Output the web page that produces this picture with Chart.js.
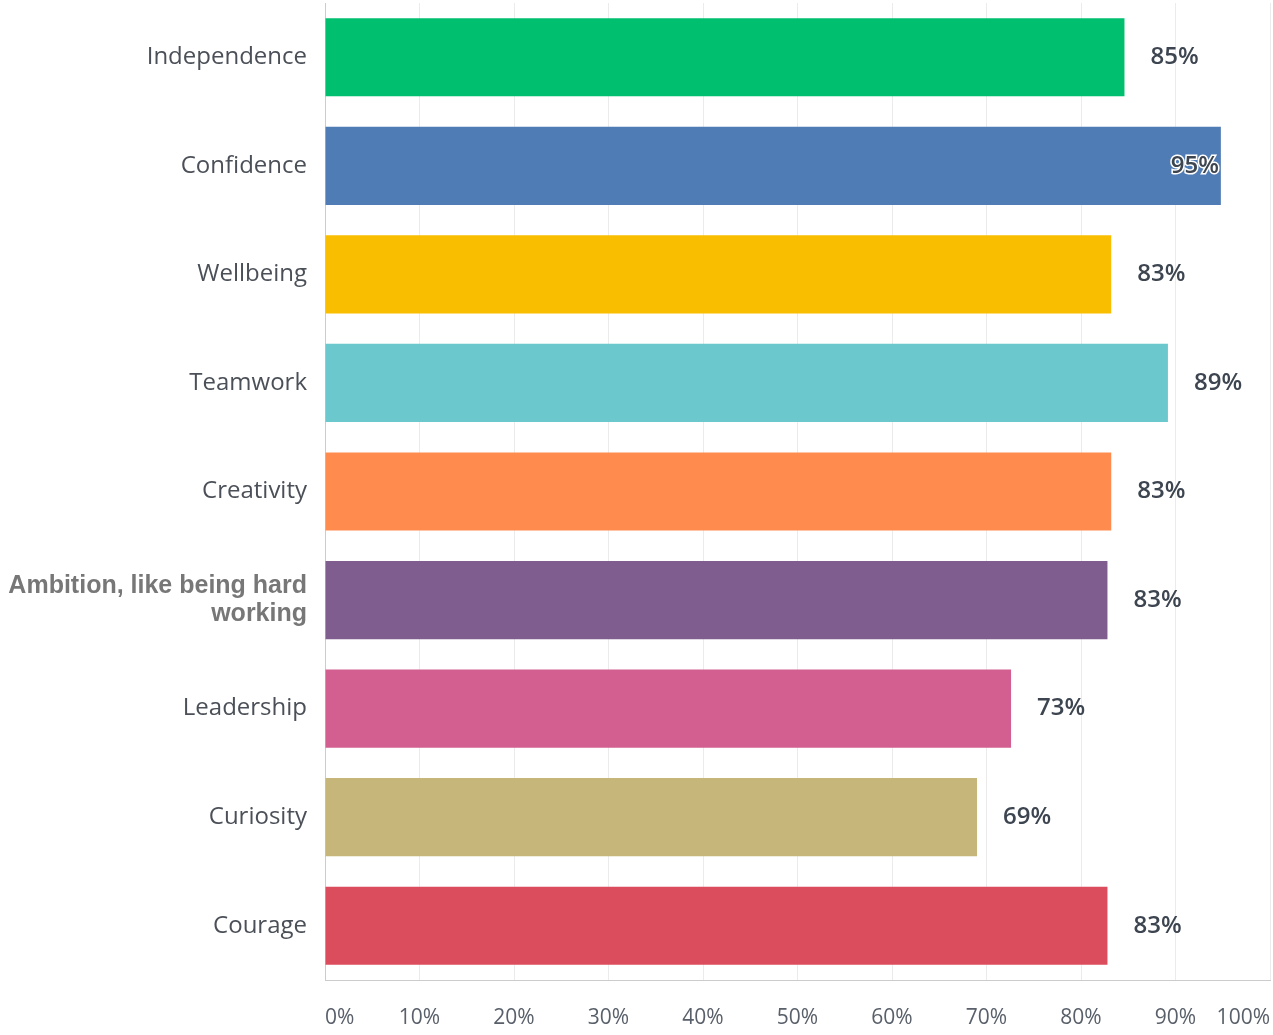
<!DOCTYPE html>
<html>
<head>
<meta charset="utf-8">
<script src="https://cdn.jsdelivr.net/npm/chart.js@4.4.0/dist/chart.umd.min.js"></script>
<style>
  html, body { margin: 0; padding: 0; background: #fff; }
  #wrap { width: 1273px; height: 1035px; position: relative; }
</style>
</head>
<body>
<div id="wrap"><canvas id="myChart"></canvas></div>
<script>
// categorias y valores
var categorias = ['Independence', 'Confidence', 'Wellbeing', 'Teamwork', 'Creativity',
                  ['Ambition, like being hard', 'working'], 'Leadership', 'Curiosity', 'Courage'];
var porcentajes = [84.6, 94.8, 83.2, 89.2, 83.2, 82.8, 72.6, 69.0, 82.8];
var colores = ['#00bf6f', '#507cb6', '#f9be00', '#6bc8cd', '#ff8b4f',
               '#7f5e8f', '#d25f90', '#c7b679', '#db4c5c'];
var ticksX = [0, 10, 20, 30, 40, 50, 60, 70, 80, 90, 100];

var etiquetasValor = {
  id: 'etiquetasValor',
  afterDatasetsDraw: function(chart) {
    var ctx = chart.ctx;
    var meta = chart.getDatasetMeta(0);
    ctx.save();
    ctx.font = '600 24px "Open Sans"';
    ctx.textBaseline = 'middle';
    meta.data.forEach(function(bar, i) {
      var txt = Math.round(porcentajes[i]) + '%';
      var w = ctx.measureText(txt).width;
      if (bar.x + 26 + w > chart.width) {
        ctx.textAlign = 'right';
        ctx.lineWidth = 3;
        ctx.strokeStyle = '#ffffff';
        ctx.strokeText(txt, bar.x - 2, bar.y);
        ctx.fillStyle = '#3d4550';
        ctx.fillText(txt, bar.x - 2, bar.y);
      } else {
        ctx.textAlign = 'left';
        ctx.fillStyle = '#3d4550';
        ctx.fillText(txt, bar.x + 26, bar.y);
      }
    });
    ctx.restore();
  }
};

const ctx = document.getElementById('myChart');
new Chart(ctx, {
  type: 'bar',
  data: {
    labels: categorias,
    datasets: [{
      data: porcentajes,
      backgroundColor: colores,
      borderWidth: 0,
      barPercentage: 0.72,
      categoryPercentage: 1
    }]
  },
  options: {
    indexAxis: 'y',
    responsive: true,
    maintainAspectRatio: false,
    animation: false,
    layout: { padding: { top: 3, right: 3, left: 0, bottom: 0 } },
    plugins: { legend: { display: false }, tooltip: { enabled: false } },
    scales: {
      x: {
        min: 0,
        max: 100,
        afterBuildTicks: function(scale) {
          scale.ticks = ticksX.map(function(v) { return { value: v }; });
        },
        afterFit: function(scale) {
          scale.height = 55;
          scale.paddingLeft = 0;
          scale.paddingRight = 0;
        },
        grid: { color: '#ebebeb', lineWidth: 1, drawTicks: false },
        border: { color: '#cccccc', width: 1 },
        ticks: {
          align: 'inner',
          padding: 25,
          color: '#59606a',
          font: { family: '"Open Sans"', size: 21 },
          callback: function(v) { return v + '%'; }
        }
      },
      y: {
        afterFit: function(scale) {
          scale.width = 325;
          scale.paddingTop = 0;
          scale.paddingBottom = 0;
        },
        grid: { display: false, drawTicks: false },
        border: { color: '#cccccc', width: 1 },
        ticks: {
          padding: 18,
          color: function(c) { return c.index === 5 ? '#777777' : '#4b5058'; },
          font: function(c) {
            if (c.index === 5) return { family: '"Liberation Sans"', size: 25, weight: 'bold', lineHeight: 1.12 };
            return { family: '"Open Sans"', size: 24 };
          }
        }
      }
    }
  },
  plugins: [etiquetasValor]
});
</script>
</body>
</html>
